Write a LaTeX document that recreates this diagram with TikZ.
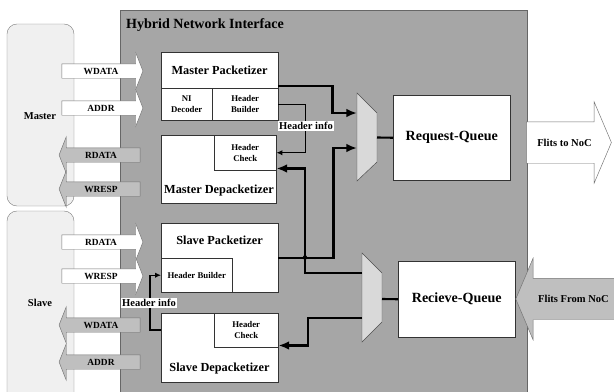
\documentclass[tikz,border=0pt]{standalone}
\usepackage{fontspec}
\setmainfont{Liberation Serif}
\usetikzlibrary{shapes, arrows, arrows.meta, positioning, calc}
\tikzstyle{block}=[draw=black!80, fill=white, anchor=north west, inner sep=0pt]
\tikzstyle{subBlock}=[block, font=\fontsize{7.5}{9}\selectfont\bfseries, align=center]
\tikzstyle{blockTitle}=[font=\fontsize{10.5}{12}\selectfont\bfseries]
\tikzstyle{queueTitle}=[font=\fontsize{12}{14}\selectfont\bfseries]
\tikzstyle{bus}=[single arrow, draw=black!55, single arrow head extend=0.33cm,
  single arrow tip angle=137, minimum height=2.43cm, inner xsep=0pt, inner ysep=0pt,
  text height=0.3cm, text depth=0.12cm, font=\fontsize{8}{9}\selectfont\bfseries]
\tikzstyle{busIn}=[bus, fill=white]
\tikzstyle{busOut}=[bus, fill=black!25, shape border rotate=180]
\tikzstyle{nocBus}=[single arrow, draw=black!55, single arrow head extend=0.6cm,
  single arrow tip angle=134, inner xsep=0pt, inner ysep=0pt,
  text height=0.72cm, text depth=0.51cm, font=\fontsize{9}{11}\selectfont\bfseries]
\tikzstyle{infoLabel}=[fill=white, inner sep=1pt, font=\fontsize{9}{10}\selectfont\bfseries]
\tikzstyle{mux}=[fill=black!15, draw=black!70]
\tikzstyle{wireArrow}=[-{Latex[length=1.8mm, width=1.6mm]}, line width=0.9pt]
\tikzstyle{busLine}=[line width=1.8pt]
\tikzstyle{busArrow}=[-{Latex[length=3.2mm, width=2.6mm]}, line width=1.8pt]

\begin{document}
\begin{tikzpicture}[x=0.03cm, y=-0.03cm]
      \useasboundingbox (0,0) rectangle (614,392);

      % interface and the two sides
      \filldraw[fill=black!35, draw=black!60] (120,10) rectangle (527,400);
      \filldraw[fill=black!6, draw=black!50, rounded corners=0.3cm] (7,24) rectangle (74,206);
      \filldraw[fill=black!6, draw=black!50, rounded corners=0.3cm] (7,211) rectangle (74,410);
      \node[anchor=west, font=\fontsize{12}{14}\selectfont\bfseries] (niTitle) at (122,25) {Hybrid Network Interface};
      \node[font=\fontsize{9}{10}\selectfont\bfseries] (master) at (40,116) {Master};
      \node[font=\fontsize{9}{10}\selectfont\bfseries] (slave) at (40,303) {Slave};

      % buses
      \node[busIn] (mWdata) at (101,71) {WDATA};
      \node[busIn] (mAddr) at (101,108) {ADDR};
      \node[busOut] (mRdata) at (101,155) {RDATA};
      \node[busOut] (mWresp) at (101,189) {WRESP};
      \node[busIn] (sRdata) at (101,242) {RDATA};
      \node[busIn] (sWresp) at (101,276) {WRESP};
      \node[busOut] (sWdata) at (101,325) {WDATA};
      \node[busOut] (sAddr) at (101,362) {ADDR};

      % master side blocks
      \node[block, minimum width=3.51cm, minimum height=2.04cm] (mPack) at (161,52) {};
      \node[blockTitle] (mPackT) at (219.5,70) {Master Packetizer};
      \node[subBlock, minimum width=1.53cm, minimum height=0.96cm] (mDec) at (161,88) {NI\\Decoder};
      \node[subBlock, minimum width=1.98cm, minimum height=0.96cm] (mHB) at (212,88) {Header\\Builder};
      \node[block, minimum width=3.45cm, minimum height=2.04cm] (mDepack) at (161,135) {};
      \node[subBlock, minimum width=1.86cm, minimum height=1.05cm] (mHC) at (214,135) {Header\\Check};
      \node[blockTitle] (mDepackT) at (219,191) {Master Depacketizer};

      % slave side blocks
      \node[block, minimum width=3.51cm, minimum height=2.07cm] (sPack) at (161,223) {};
      \node[blockTitle] (sPackT) at (219.5,240) {Slave Packetizer};
      \node[subBlock, minimum width=2.13cm, minimum height=1.02cm] (sHB) at (161,258) {Header Builder};
      \node[block, minimum width=3.51cm, minimum height=2.07cm] (sDepack) at (161,313) {};
      \node[subBlock, minimum width=1.92cm, minimum height=1.02cm] (sHC) at (214,313) {Header\\Check};
      \node[blockTitle] (sDepackT) at (219.5,369) {Slave Depacketizer};

      % queues
      \node[block, minimum width=3.51cm, minimum height=2.55cm, queueTitle] (reqQ) at (393,95) {Request-Queue};
      \node[block, minimum width=3.51cm, minimum height=2.28cm, queueTitle] (rcvQ) at (398,261) {Recieve-Queue};
      \node[nocBus, fill=white, minimum height=2.55cm] (toNoc) at (564.5,142.5) {Flits to NoC};
      \node[nocBus, fill=black!25, shape border rotate=180, minimum height=3.2cm] (fromNoc) at (573.5,299) {Flits From NoC};

      % muxes
      \filldraw[mux] (357,93) -- (377,113) -- (377,162) -- (357,181) -- cycle;
      \filldraw[mux] (362,253) -- (382,273) -- (382,322) -- (362,342) -- cycle;
      \coordinate (mux1in1) at (357,113);
      \coordinate (mux1in2) at (357,148);
      \coordinate (mux1out) at (377,137.5);
      \coordinate (mux2in1) at (362,273);
      \coordinate (mux2in2) at (362,318);
      \coordinate (mux2out) at (382,299);
      \coordinate (jn) at (305,257.5);

      % wiring
      \draw[busArrow] (mPack.east) -- ++(54,0) |- (mux1in1);
      \draw[busArrow] (sPack.east) -- ++(55,0) |- (mux1in2);
      \draw[busArrow] (mux2in1) -| (jn) |- ($(mHC.south east)+(0,-2)$);
      \draw[busArrow] (mux2in2) -- ++(-54,0) |- ($(sHC.south east)+(0,-2)$);
      \fill (jn) circle (2.2);
      \draw[wireArrow] (mHB.east) -- ++(27,0) |- (mHC.east);
      \draw[wireArrow] ($(sDepack.north west)+(0,17)$) -- ++(-11,0) |- (sHB.west);
      \draw[busLine] (mux1out) -- (reqQ.west);
      \draw[busLine] (mux2out) -- (rcvQ.west);

      \node[infoLabel] (mInfo) at (306,126) {Header info};
      \node[infoLabel] (sInfo) at (149,303) {Header info};
\end{tikzpicture}
\end{document}
